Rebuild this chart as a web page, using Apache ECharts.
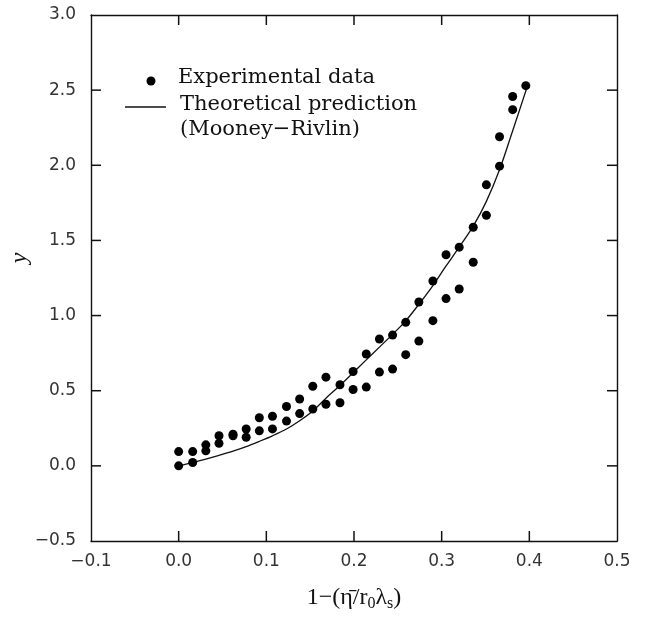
<!DOCTYPE html>
<html>
<head>
<meta charset="utf-8">
<script src="https://cdn.jsdelivr.net/npm/echarts@6/dist/echarts.min.js"></script>
<style>html,body{margin:0;padding:0;background:#fff;}#c{width:645px;height:633px;}</style>
</head>
<body>
<div id="c"></div>
<script>
// Experimental data: pairs of points at each x position
const expX = [0.000, 0.016, 0.031, 0.046, 0.062, 0.077, 0.092, 0.107, 0.123, 0.138, 0.153, 0.168, 0.184, 0.199, 0.214, 0.229, 0.244, 0.259, 0.274, 0.290, 0.305, 0.320, 0.336, 0.351, 0.366, 0.381, 0.396];
const expUpper = [0.095, 0.095, 0.14, 0.20, 0.21, 0.245, 0.32, 0.33, 0.395, 0.445, 0.53, 0.59, 0.54, 0.628, 0.744, 0.844, 0.87, 0.955, 1.09, 1.23, 1.405, 1.455, 1.588, 1.87, 2.19, 2.458, 2.53];
const expLower = [0.0, 0.022, 0.10, 0.15, 0.20, 0.19, 0.233, 0.246, 0.298, 0.348, 0.378, 0.41, 0.42, 0.508, 0.524, 0.624, 0.644, 0.74, 0.83, 0.966, 1.113, 1.177, 1.355, 1.667, 1.994, 2.37, null];
// Theoretical prediction (Mooney-Rivlin)
const theoX = [0.000, 0.016, 0.031, 0.046, 0.062, 0.077, 0.092, 0.107, 0.123, 0.138, 0.153, 0.168, 0.184, 0.199, 0.214, 0.229, 0.244, 0.259, 0.274, 0.290, 0.305, 0.320, 0.336, 0.351, 0.366, 0.381, 0.398];
const theoY = [0.0, 0.022, 0.045, 0.07, 0.098, 0.128, 0.163, 0.20, 0.245, 0.30, 0.365, 0.45, 0.535, 0.62, 0.705, 0.79, 0.875, 0.965, 1.075, 1.20, 1.33, 1.455, 1.595, 1.76, 1.97, 2.23, 2.53];
// Axis settings and tick values
const xTicks = { min: -0.1, max: 0.5, interval: 0.1 };
const yTicks = { min: -0.5, max: 3.0, interval: 0.5 };
const xTickVals = [0.0, 0.1, 0.2, 0.3, 0.4];
const yTickVals = [0.0, 0.5, 1.0, 1.5, 2.0, 2.5];
const legendLabels = ['Experimental data', 'Theoretical prediction', '(Mooney\u2212Rivlin)'];

const expData = [];
expX.forEach((x, i) => {
  if (expUpper[i] != null) expData.push([x, expUpper[i]]);
  if (expLower[i] != null) expData.push([x, expLower[i]]);
});
const theoData = theoX.map((x, i) => [x, theoY[i]]);

const fmt = v => (Math.round(v * 10) / 10).toFixed(1).replace('-', '\u2212');
const axisLineStyle = { color: '#111', width: 1.4 };
const labelStyle = { color: '#333', fontSize: 17, fontFamily: 'DejaVu Sans' };
const TICK = 10;
const tickLine = { stroke: '#111', lineWidth: 1.5 };

const frameAxis = (ticks, position) => ({
  type: 'value', position, min: ticks.min, max: ticks.max, interval: ticks.interval,
  axisLine: { show: true, onZero: false, lineStyle: axisLineStyle },
  axisTick: { show: false }, axisLabel: { show: false }, splitLine: { show: false }
});

const chart = echarts.init(document.getElementById('c'), null, { renderer: 'canvas' });
chart.setOption({
  backgroundColor: '#fff',
  animation: false,
  tooltip: { show: false },
  grid: { left: 91, top: 15, right: 28, bottom: 92, containLabel: false, outerBoundsMode: 'none' },
  xAxis: [
    Object.assign(frameAxis(xTicks, 'bottom'), {
      axisLabel: Object.assign({ show: true, formatter: fmt, margin: 12 }, labelStyle),
      name: '{a|1\u2212(\u03B7\u0304/r}{s|0}{a|\u03BB}{s|s}{a|)}',
      nameLocation: 'middle', nameGap: 43,
      nameTextStyle: {
        rich: {
          a: { fontFamily: 'Liberation Serif', fontSize: 24, color: '#111' },
          s: { fontFamily: 'Liberation Serif', fontSize: 16, color: '#111', padding: [12, 0, 0, 0] }
        }
      }
    }),
    frameAxis(xTicks, 'top')
  ],
  yAxis: [
    Object.assign(frameAxis(yTicks, 'left'), {
      axisLabel: Object.assign({ show: true, formatter: fmt, margin: 15 }, labelStyle)
    }),
    frameAxis(yTicks, 'right')
  ],
  series: [
    {
      name: legendLabels[1], type: 'line', xAxisIndex: 0, yAxisIndex: 0,
      data: theoData, smooth: 0.3, showSymbol: false, symbol: 'none',
      lineStyle: { color: '#111', width: 1.3 }, z: 2
    },
    {
      name: legendLabels[0], type: 'scatter', xAxisIndex: 0, yAxisIndex: 0,
      data: expData, symbol: 'circle', symbolSize: 9,
      itemStyle: { color: '#000', opacity: 1 }, z: 3
    }
  ],
  graphic: [
    { type: 'text', x: 20, y: 258, rotation: Math.PI / 2,
      style: { text: 'y', font: 'italic 24px "Liberation Serif"', fill: '#111', align: 'center', verticalAlign: 'middle' } },
    { type: 'circle', shape: { cx: 151, cy: 81, r: 4.5 }, style: { fill: '#000' } },
    { type: 'line', shape: { x1: 125, y1: 107, x2: 166, y2: 107 }, style: { stroke: '#111', lineWidth: 1.3 } },
    { type: 'text', left: 178, top: 67, style: { text: legendLabels[0], font: '21px "DejaVu Serif"', fill: '#111' } },
    { type: 'text', left: 180, top: 94, style: { text: legendLabels[1], font: '21px "DejaVu Serif"', fill: '#111' } },
    { type: 'text', left: 180, top: 119, style: { text: legendLabels[2], font: '21px "DejaVu Serif"', fill: '#111' } }
  ]
});

// Inward tick marks on all four frame sides, positioned through the chart's own scales
const toPx = p => chart.convertToPixel({ gridIndex: 0 }, p);
const tickEls = [];
xTickVals.forEach(v => {
  const b = toPx([v, yTicks.min]);
  const t = toPx([v, yTicks.max]);
  tickEls.push({ type: 'line', z: 100, shape: { x1: b[0], y1: b[1], x2: b[0], y2: b[1] - TICK }, style: tickLine });
  tickEls.push({ type: 'line', z: 100, shape: { x1: t[0], y1: t[1], x2: t[0], y2: t[1] + TICK }, style: tickLine });
});
yTickVals.forEach(v => {
  const l = toPx([xTicks.min, v]);
  const r = toPx([xTicks.max, v]);
  tickEls.push({ type: 'line', z: 100, shape: { x1: l[0], y1: l[1], x2: l[0] + TICK, y2: l[1] }, style: tickLine });
  tickEls.push({ type: 'line', z: 100, shape: { x1: r[0], y1: r[1], x2: r[0] - TICK, y2: r[1] }, style: tickLine });
});
chart.setOption({ graphic: tickEls.map((el, i) => Object.assign({ id: 'tick' + i }, el)) });
</script>
</body>
</html>
